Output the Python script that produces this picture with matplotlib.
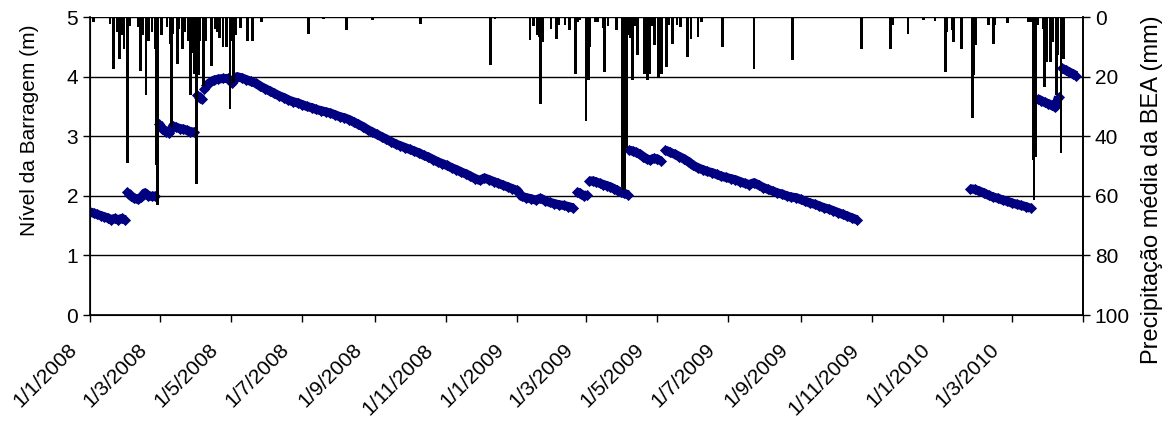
import numpy as np
import pandas as pd
import matplotlib
matplotlib.use("Agg")
import matplotlib.pyplot as plt
import matplotlib.transforms as mtransforms

plt.rcParams["font.family"] = ["Liberation Sans", "DejaVu Sans"]

# ---- Dam level (m) ----
# each run of readings: first date, days between readings, values
lvl_a_start, lvl_a_step = "2008-01-01", 3
lvl_a = [1.73, 1.71, 1.69, 1.67, 1.65, 1.63, 1.60, 1.62, 1.60, 1.62, 1.60]

lvl_b_start, lvl_b_step = "2008-02-02", 3
lvl_b = [2.06, 2.00, 1.96, 1.94, 1.98, 2.05, 2.00, 1.99, 2.00]

lvl_c_start, lvl_c_step = "2008-02-29", 3
lvl_c = [3.21, 3.13, 3.08, 3.06, 3.17, 3.15, 3.13, 3.12, 3.10, 3.08, 3.07]

lvl_d_start, lvl_d_step = "2008-04-02", 2
lvl_d = [3.69, 3.65, 3.62]

lvl_e_start, lvl_e_step = "2008-04-08", 4
lvl_e = [3.80, 3.89, 3.94, 3.96, 3.97, 3.97, 3.90, 4.00, 3.98, 3.95,
         3.92, 3.89, 3.84, 3.80, 3.76, 3.72, 3.68, 3.65, 3.61, 3.58,
         3.56, 3.53, 3.50, 3.48, 3.45, 3.43, 3.41, 3.39, 3.36, 3.33,
         3.31, 3.28, 3.24, 3.20, 3.16, 3.11, 3.07, 3.03, 2.99, 2.95,
         2.91, 2.87, 2.84, 2.81, 2.78, 2.75, 2.72, 2.68, 2.65, 2.61,
         2.57, 2.54, 2.51, 2.47, 2.44, 2.40, 2.37, 2.33, 2.29, 2.26,
         2.30, 2.27, 2.24, 2.21, 2.18, 2.15, 2.12, 2.09, 1.99, 1.97,
         1.95, 1.93, 1.96, 1.92, 1.89, 1.87, 1.85, 1.84, 1.82, 1.80]

lvl_f_start, lvl_f_step = "2009-02-21", 3
lvl_f = [2.07, 2.04, 2.00, 2.02]

lvl_g_start, lvl_g_step = "2009-03-04", 3
lvl_g = [2.25, 2.25, 2.23, 2.21, 2.19, 2.17, 2.15, 2.12, 2.09, 2.06, 2.04, 2.02]

lvl_h_start, lvl_h_step = "2009-04-07", 3
lvl_h = [2.77, 2.75, 2.73, 2.70, 2.66, 2.62, 2.60, 2.63, 2.62, 2.58]

lvl_i_start, lvl_i_step = "2009-05-08", 4
lvl_i = [2.77, 2.73, 2.70, 2.66, 2.62, 2.57, 2.51, 2.47, 2.44, 2.41,
         2.39, 2.36, 2.33, 2.31, 2.29, 2.27, 2.24, 2.21, 2.19, 2.22,
         2.18, 2.14, 2.11, 2.08, 2.05, 2.03, 2.00, 1.98, 1.97, 1.94,
         1.91, 1.88, 1.86, 1.83, 1.80, 1.78, 1.75, 1.72, 1.69, 1.66,
         1.63, 1.60]

lvl_j_start, lvl_j_step = "2010-01-24", 4
lvl_j = [2.12, 2.11, 2.08, 2.05, 2.01, 1.98, 1.96, 1.93, 1.91, 1.88,
         1.86, 1.84, 1.82, 1.79]

lvl_k_start, lvl_k_step = "2010-03-23", 3
lvl_k = [3.63, 3.60, 3.57, 3.55, 3.52, 3.49, 3.66]

lvl_l_start, lvl_l_step = "2010-04-13", 3
lvl_l = [4.14, 4.11, 4.08, 4.05, 4.02]

level_runs = [
    (lvl_a_start, lvl_a_step, lvl_a), (lvl_b_start, lvl_b_step, lvl_b),
    (lvl_c_start, lvl_c_step, lvl_c), (lvl_d_start, lvl_d_step, lvl_d),
    (lvl_e_start, lvl_e_step, lvl_e), (lvl_f_start, lvl_f_step, lvl_f),
    (lvl_g_start, lvl_g_step, lvl_g), (lvl_h_start, lvl_h_step, lvl_h),
    (lvl_i_start, lvl_i_step, lvl_i), (lvl_j_start, lvl_j_step, lvl_j),
    (lvl_k_start, lvl_k_step, lvl_k), (lvl_l_start, lvl_l_step, lvl_l),
]

# ---- Mean daily rainfall over the BEA (mm) ----
rain_dates = [
    "2008-01-04", "2008-01-18", "2008-01-21", "2008-01-24", "2008-01-26",
    "2008-01-28", "2008-01-30", "2008-02-02", "2008-02-04", "2008-02-11",
    "2008-02-13", "2008-02-15", "2008-02-18", "2008-02-20", "2008-02-23",
    "2008-02-26", "2008-02-27", "2008-02-28", "2008-03-02", "2008-03-07",
    "2008-03-10", "2008-03-11", "2008-03-12", "2008-03-16", "2008-03-17",
    "2008-03-20", "2008-03-22", "2008-03-25", "2008-03-27", "2008-03-28",
    "2008-03-30", "2008-04-01", "2008-04-03", "2008-04-04", "2008-04-07",
    "2008-04-09", "2008-04-14", "2008-04-17", "2008-04-19", "2008-04-21",
    "2008-04-24", "2008-04-27", "2008-04-30", "2008-05-02", "2008-05-03",
    "2008-05-05", "2008-05-09", "2008-05-15", "2008-05-19", "2008-05-27",
    "2008-07-06", "2008-07-19", "2008-08-08", "2008-08-30", "2008-10-10",
    "2008-12-09", "2008-12-13",
    "2009-01-12", "2009-01-15", "2009-01-18", "2009-01-20", "2009-01-21",
    "2009-01-23", "2009-01-30", "2009-02-04", "2009-02-06", "2009-02-11",
    "2009-02-15", "2009-02-20", "2009-02-22", "2009-02-24", "2009-03-01",
    "2009-03-03", "2009-03-04", "2009-03-09", "2009-03-11", "2009-03-16",
    "2009-03-17", "2009-03-20", "2009-03-27", "2009-04-01", "2009-04-02",
    "2009-04-03", "2009-04-05", "2009-04-07", "2009-04-08", "2009-04-10",
    "2009-04-12", "2009-04-14", "2009-04-20", "2009-04-22", "2009-04-23",
    "2009-04-25", "2009-04-27", "2009-04-29", "2009-05-02", "2009-05-03",
    "2009-05-05", "2009-05-09", "2009-05-11", "2009-05-14", "2009-05-18",
    "2009-05-21", "2009-05-27", "2009-05-30", "2009-06-05", "2009-06-08",
    "2009-06-26", "2009-07-23", "2009-08-25", "2009-10-23", "2009-11-17",
    "2009-11-19", "2009-12-02", "2009-12-15", "2009-12-25",
    "2010-01-03", "2010-01-04", "2010-01-09", "2010-01-10", "2010-01-17",
    "2010-01-26", "2010-01-27", "2010-01-29", "2010-02-09", "2010-02-13",
    "2010-02-14", "2010-02-25", "2010-03-15", "2010-03-18", "2010-03-19",
    "2010-03-20", "2010-03-21", "2010-03-23", "2010-03-28", "2010-03-29",
    "2010-03-31", "2010-04-03", "2010-04-05", "2010-04-08", "2010-04-09",
    "2010-04-12", "2010-04-14",
]
rain_mm = [
    1.7, 2.3, 17.5, 5.0, 14.0,
    6.0, 10.7, 49.0, 3.0, 3.4,
    18.0, 6.0, 26.0, 8.0, 5.0,
    10.7, 49.7, 63.0, 6.0, 3.4,
    9.0, 37.0, 5.5, 15.8, 4.0,
    10.7, 5.0, 8.0, 26.0, 12.0,
    19.0, 56.0, 19.5, 8.0, 23.0,
    8.0, 16.5, 4.0, 5.0, 7.0,
    10.0, 10.0, 31.0, 8.0, 22.0,
    6.0, 3.5, 8.0, 8.0, 1.6,
    5.5, 0.7, 4.4, 1.0, 2.2,
    16.0, 0.7,
    7.7, 3.0, 6.0, 6.6, 29.0,
    8.5, 4.0, 7.5, 2.5, 2.6,
    4.2, 19.0, 1.5, 1.0, 35.0,
    21.0, 10.0, 1.5, 1.5, 3.5,
    18.5, 3.0, 4.2, 57.0, 58.0,
    58.0, 44.0, 6.0, 7.0, 21.0,
    3.0, 12.8, 19.0, 16.0, 21.0,
    19.0, 3.0, 9.4, 20.0, 12.8,
    19.0, 16.8, 2.5, 9.0, 2.5,
    3.4, 13.4, 7.3, 6.7, 1.7,
    10.0, 17.5, 14.5, 10.6, 10.6,
    2.7, 5.6, 1.0, 1.2,
    18.5, 5.0, 4.4, 8.4, 10.7,
    34.0, 19.5, 9.4, 2.5, 9.0,
    2.5, 2.0, 1.5, 1.5, 48.0,
    61.4, 47.0, 2.7, 3.9, 23.5,
    15.0, 15.0, 8.4, 26.0, 12.8,
    45.5, 14.0,
]

# axis ticks
x_ticks = ["2008-01-01", "2008-03-01", "2008-05-01", "2008-07-01", "2008-09-01",
           "2008-11-01", "2009-01-01", "2009-03-01", "2009-05-01", "2009-07-01",
           "2009-09-01", "2009-11-01", "2010-01-01", "2010-03-01", "2010-05-01"]
x_ticklabels = ["1/1/2008", "1/3/2008", "1/5/2008", "1/7/2008", "1/9/2008",
                "1/11/2008", "1/1/2009", "1/3/2009", "1/5/2009", "1/7/2009",
                "1/9/2009", "1/11/2009", "1/1/2010", "1/3/2010", ""]
level_ticks = [0, 1, 2, 3, 4, 5]
rain_ticks = [0, 20, 40, 60, 80, 100]

NAVY = "#000080"

# ---- Figure ----
fig = plt.figure(figsize=(11.71, 4.28), dpi=100)
ax = fig.add_axes([0.0769, 0.264, 0.848, 0.696])

for start, step, vals in level_runs:
    d = pd.date_range(start, periods=len(vals), freq=f"{step}D")
    # a thick stroke under the diamonds keeps each run a solid band
    ax.plot(d, vals, color=NAVY, linewidth=6.5, solid_capstyle="butt",
            zorder=3)
    ax.plot(d, vals, linestyle="none", marker="D", markersize=5.4,
            color=NAVY, markeredgecolor=NAVY, markeredgewidth=0.6,
            zorder=3)

ax.set_ylim(0, 5)
ax.set_yticks(level_ticks)
ax.set_xlim(pd.Timestamp("2008-01-01"), pd.Timestamp("2010-05-01"))
ax.set_xticks(pd.to_datetime(x_ticks))
ax.set_xticklabels(x_ticklabels, rotation=45, ha="right", va="center",
                   rotation_mode="anchor", fontsize=15)
ax.tick_params(axis="x", direction="out", length=5, width=1, pad=0)
ax.tick_params(axis="y", direction="out", length=5, width=1, labelsize=15)
# date labels hang below and to the left of their tick
shift = mtransforms.ScaledTranslation(-0.16, -0.25, fig.dpi_scale_trans)
for lbl in ax.get_xticklabels():
    lbl.set_transform(lbl.get_transform() + shift)
ax.yaxis.grid(True, color="black", linewidth=1.0)
ax.set_axisbelow(True)
ax.spines["top"].set_visible(False)
for s in ("left", "bottom", "right"):
    ax.spines[s].set_linewidth(1.2)

# rainfall hangs from the top on an inverted secondary axis
ax2 = ax.twinx()
ax2.bar(pd.to_datetime(rain_dates), rain_mm, width=2.3, color="black",
        edgecolor="none", align="center")
ax2.set_ylim(100, 0)
ax2.set_yticks(rain_ticks)
ax2.tick_params(axis="y", direction="out", length=5, width=1, labelsize=15)
ax2.spines["top"].set_visible(False)
ax2.spines["right"].set_linewidth(1.2)

fig.text(30 / 1171, 1 - 130 / 428, "Nível da Barragem (m)", rotation=90,
         ha="center", va="center", fontsize=15)
fig.text(1152 / 1171, 1 - 190 / 428, "Precipitação média da BEA (mm)",
         rotation=90, ha="center", va="center", fontsize=17)

fig.savefig("out.png", dpi=100, facecolor="white")
